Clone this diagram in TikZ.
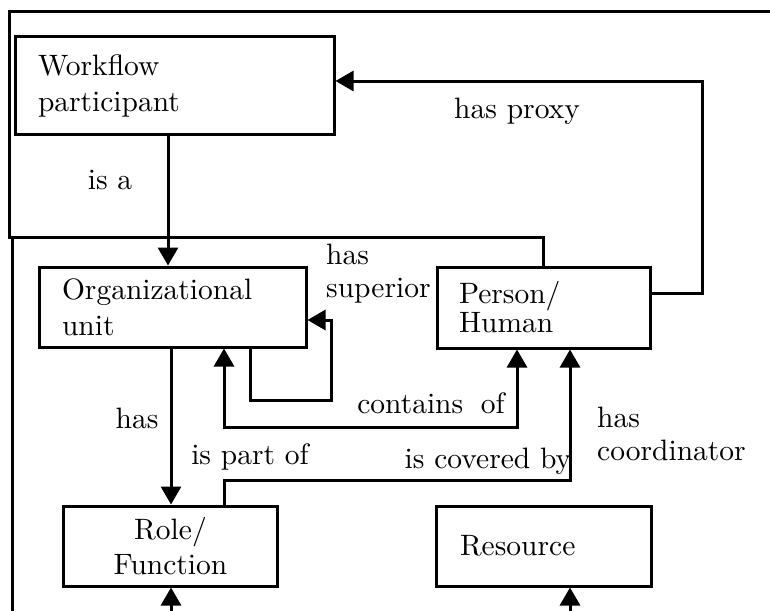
\documentclass[tikz,border=0pt]{standalone}
\usepackage{fontspec}
\setmainfont{lmroman10-regular}[Extension=.otf]
\usetikzlibrary{arrows.meta}
\tikzset{
  box/.style={draw, line width=3pt, inner ysep=0pt, font=\fontsize{29.5}{36}\selectfont},
  lbl/.style={inner sep=0pt, font=\fontsize{29.5}{33}\selectfont, align=left},
  conn/.style={line width=3pt},
  arr/.style={conn, -{Triangle[length=18pt,width=20pt]}},
  darr/.style={conn, {Triangle[length=18pt,width=20pt]}-{Triangle[length=18pt,width=20pt]}},
}
\begin{document}
\begin{tikzpicture}[x=1pt,y=-1pt]
\useasboundingbox[fill=white] (0,0) rectangle (770,610);

% boxes
\node[box, minimum width=319pt, minimum height=97pt, text width=273pt, inner xsep=23pt, align=left] (wf) at (174.5,85.5) {Workflow\\participant};
\node[box, minimum width=267pt, minimum height=80pt, text width=221pt, inner xsep=23pt, align=left] (org) at (172.5,307) {Organizational\\unit};
\node[box, minimum width=213pt, minimum height=81pt, text width=169pt, inner xsep=22pt, align=left, font=\fontsize{29.5}{29}\selectfont] (per) at (543.5,307.5) {Person/\\Human};
\node[box, minimum width=214pt, minimum height=80pt, text width=170pt, inner xsep=22pt, align=center, font=\fontsize{29.5}{35}\selectfont] (role) at (170.5,546) {Role/\\Function};
\node[box, minimum width=215pt, minimum height=80pt, text width=167pt, inner xsep=24pt, align=left] (res) at (543.5,546) {Resource};

% helper coordinates
\coordinate (proxyc) at (702,81);
\coordinate (framec) at (9,237);
\coordinate (topl) at (9,12);
\coordinate (topr) at (772,12);
\coordinate (left2t) at (12,237);
\coordinate (left2b) at (12,612);
\coordinate (supc) at (331,400);
\coordinate (contc) at (517,427);
\coordinate (covc) at (570,480);
\coordinate (rolein) at (171,612);
\coordinate (resin) at (570,612);

% connectors
\draw[arr] ([xshift=-6.5pt]wf.south) -- ([xshift=-6.5pt]wf.south |- org.north);
\draw[arr] ([yshift=14.5pt]per.east) -| (proxyc) -- (proxyc -| wf.east);
\draw[conn] (per.north) |- (framec) -- (topl) -- (topr);
\draw[conn] (left2t) -- (left2b);
\draw[arr] ([xshift=77.5pt]org.south) |- (supc) |- ([yshift=-13pt]org.east);
\draw[darr] ([xshift=51.5pt]org.south) |- (contc) -- (contc |- per.south);
\draw[arr] ([xshift=-1.5pt]org.south) -- ([xshift=-1.5pt]org.south |- role.north);
\draw[arr] ([xshift=53.5pt]role.north) |- (covc) -- (covc |- per.south);
\draw[arr] (rolein) -- (rolein |- role.south);
\draw[arr] (resin) -- (resin |- res.south);

% labels
\node[lbl] (lisa) at (110,180) {is a};
\node[lbl] (lproxy) at (517,111) {has proxy};
\node[lbl, anchor=west] (lsup) at (326,274) {has\\superior};
\node[lbl] (lcont) at (431,403) {contains\hspace{0.6em}of};
\node[lbl] (lhas) at (137,418) {has};
\node[lbl] (lpart) at (250,457) {is part of};
\node[lbl] (lcov) at (488,461) {is covered by};
\node[lbl, anchor=west] (lcoord) at (597,434) {has\\coordinator};
\end{tikzpicture}
\end{document}
